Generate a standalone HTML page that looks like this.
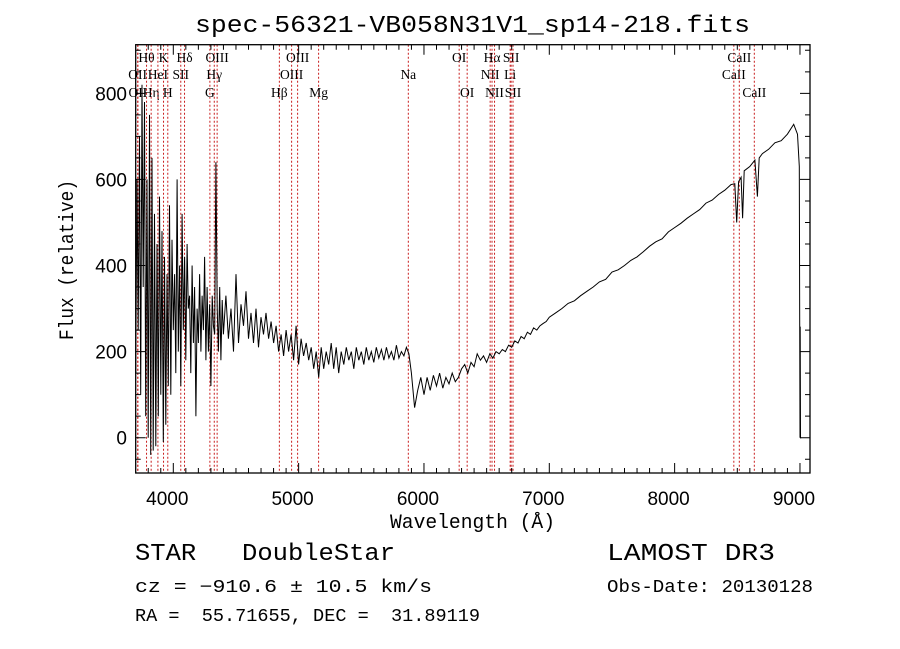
<!DOCTYPE html>
<html><head><meta charset="utf-8"><style>
html,body{margin:0;padding:0;background:#fff}
svg{display:block}
text{white-space:pre}
.tk{font-family:"Liberation Sans",sans-serif;font-size:19px;fill:#000}
.ll{font-family:"Liberation Serif",serif;font-size:13.5px;fill:#000}
.mn{font-family:"Liberation Mono",monospace;fill:#000}
</style></head><body>
<svg id="chart" width="900" height="649" viewBox="0 0 900 649" xmlns="http://www.w3.org/2000/svg" xml:space="preserve">
<rect x="0" y="0" width="900" height="649" fill="#fff"/>
<text class="mn" x="195" y="32" font-size="24" textLength="555" lengthAdjust="spacingAndGlyphs">spec-56321-VB058N31V1_sp14-218.fits</text>
<g id="lines"></g>
<g id="spec"></g>
<g id="axes"></g>
<text class="mn" x="390" y="528" font-size="20" textLength="165" lengthAdjust="spacingAndGlyphs">Wavelength (Å)</text>
<text class="mn" font-size="20" transform="translate(73,340) rotate(-90)" textLength="160" lengthAdjust="spacingAndGlyphs">Flux (relative)</text>
<text class="mn" x="135" y="560" font-size="24" textLength="260" lengthAdjust="spacingAndGlyphs">STAR   DoubleStar</text>
<text class="mn" x="135" y="592" font-size="18" textLength="297" lengthAdjust="spacingAndGlyphs">cz = −910.6 ± 10.5 km/s</text>
<text class="mn" x="135" y="621" font-size="18" textLength="345" lengthAdjust="spacingAndGlyphs">RA =  55.71655, DEC =  31.89119</text>
<text class="mn" x="607" y="560" font-size="24" textLength="168" lengthAdjust="spacingAndGlyphs">LAMOST DR3</text>
<text class="mn" x="607" y="592" font-size="18" textLength="206" lengthAdjust="spacingAndGlyphs">Obs-Date: 20130128</text>
</svg>
<script>
const wave = [3700,3710,3720,3730,3740,3750,3760,3770,3780,3790,3800,3810,3820,3830,3840,3850,3860,3870,3880,3890,3900,3910,3920,3930,3940,3950,3960,3970,3980,3990,4000,4010,4020,4030,4040,4050,4060,4070,4080,4090,4100,4110,4120,4130,4140,4150,4160,4170,4180,4190,4200,4210,4220,4230,4240,4250,4260,4270,4280,4290,4300,4310,4320,4330,4340,4350,4360,4370,4380,4390,
4400,4420,4440,4460,4480,4500,4520,4540,4560,4580,4600,4620,4640,4660,4680,4700,4720,4740,4760,4780,4800,4820,4840,4860,4880,4900,4920,4940,4960,4980,5000,5020,5040,5060,5080,5100,5120,5140,5160,5180,5200,5220,5240,5260,5280,5300,5320,5340,5360,5380,5400,5420,5440,5460,5480,5500,5520,5540,5560,5580,5600,5620,5640,5660,5680,5700,5720,5740,5760,5780,5800,5820,5840,5860,5880,
5900,5925,5950,5975,6000,6025,6050,6075,6100,6125,6150,6175,6200,6225,6250,6275,6300,6325,6350,6375,6400,6425,6450,6475,6500,6525,6550,6575,6600,6625,6650,6675,6700,6725,6750,6775,6800,6825,6850,6875,6900,6925,6950,6975,
7000,7050,7100,7150,7200,7250,7300,7350,7400,7450,7500,7550,7600,7650,7700,7750,7800,7850,7900,7950,8000,8050,8100,8150,8200,8250,8300,8350,8400,8450,8480,8495,8510,8530,8542,8555,8600,8640,8660,8675,8700,8750,8800,8850,8900,8950,8980,8995,9000,9002,9004,9010];
const flux = [150,600,250,700,100,820,350,780,50,600,0,750,-40,650,-30,520,-20,450,50,560,100,480,-10,420,30,380,120,540,100,460,250,380,150,600,200,400,120,520,250,420,180,450,300,330,150,400,220,350,50,300,220,380,200,330,250,420,180,350,200,310,120,330,260,240,640,300,200,350,180,320,
240,330,230,300,200,380,220,310,260,340,230,290,220,300,210,280,240,290,230,270,220,260,200,240,190,250,200,240,180,260,170,230,190,220,180,210,160,200,140,210,160,200,170,220,160,210,150,200,170,210,180,200,160,210,180,200,170,210,180,200,175,210,185,205,180,210,185,200,180,215,185,200,190,210,195,
150,70,110,140,100,140,110,145,120,150,115,140,125,150,130,140,160,170,150,175,165,195,180,190,175,195,185,200,195,205,200,215,210,225,220,235,230,245,240,255,250,260,265,270,
280,290,300,312,318,330,340,350,362,368,385,390,400,412,420,432,445,455,462,478,488,498,510,520,530,545,552,565,575,588,590,500,595,605,510,620,630,645,560,650,660,670,685,690,705,728,705,630,0,258,0,0];
const lineWave = [3727,3729,3798,3835,3889,3934,3968,4072,4102,4305,4340,4363,4861,4959,5007,5175,5893,6300,6364,6548,6563,6583,6708,6716,6731,8498,8542,8662];
const lineLabel = ["OII","OII","Hθ","Hη","HeI","K","H","SII","Hδ","G","Hγ","OIII","Hβ","OIII","OIII","Mg","Na","OI","OI","NII","Hα","NII","Li","SII","SII","CaII","CaII","CaII"];
const lineRow = [2,3,1,3,2,1,3,2,1,3,2,1,3,2,1,3,2,1,3,2,1,3,2,1,3,2,1,3];
const cz = -910.6;
const xTicks = [4000,5000,6000,7000,8000,9000];
const yTicks = [0,200,400,600,800];

const X0=135.7,X1=810,Y0=44.7,Y1=473,WMIN=3700,WMAX=9080,FMIN=-82,FMAX=913;
const sx=w=>X0+(w-WMIN)*(X1-X0)/(WMAX-WMIN);
const sy=f=>Y1-(f-FMIN)*(Y1-Y0)/(FMAX-FMIN);
const NS="http://www.w3.org/2000/svg";
function mk(tag,parent){const e=document.createElementNS(NS,tag);parent.appendChild(e);return e;}

const lg=document.getElementById('lines');
const rowY={1:62,2:79,3:97};
const zf=1+cz/299792.458;
lineWave.forEach((w,i)=>{
  const x=sx(w*zf);
  const l=mk('line',lg);
  
  
  l.setAttribute('x1',x);l.setAttribute('x2',x);l.setAttribute('y1',Y0);l.setAttribute('y2',Y1);
  l.setAttribute('stroke','#c81e1e');l.setAttribute('stroke-width','1');l.setAttribute('stroke-dasharray','2,2');
  const t=mk('text',lg);
  
  
  t.setAttribute('class','ll');t.setAttribute('x',x);t.setAttribute('y',rowY[lineRow[i]]);
  t.setAttribute('text-anchor','middle');t.textContent=lineLabel[i];
});

const sg=document.getElementById('spec');
const p=mk('path',sg);


let d='';
wave.forEach((w,i)=>{d+=(i?'L':'M')+sx(w).toFixed(1)+','+sy(flux[i]).toFixed(1);});
p.setAttribute('d',d);p.setAttribute('fill','none');p.setAttribute('stroke','#000');p.setAttribute('stroke-width','1');

const ag=document.getElementById('axes');
const fr=mk('rect',ag);


fr.setAttribute('x',X0);fr.setAttribute('y',Y0);fr.setAttribute('width',X1-X0);fr.setAttribute('height',Y1-Y0);
fr.setAttribute('fill','none');fr.setAttribute('stroke','#000');fr.setAttribute('stroke-width','1.3');
let td='';
for(let w=3800;w<=WMAX;w+=100){const x=sx(w);const L=(w%1000===0)?10:5;td+=`M${x},${Y1}v${-L}M${x},${Y0}v${L}`;}
for(let f=-50;f<=FMAX;f+=50){const y=sy(f);const L=(f%200===0)?10:5;td+=`M${X0},${y}h${L}M${X1},${y}h${-L}`;}
const tp=mk('path',ag);


tp.setAttribute('d',td);tp.setAttribute('stroke','#000');tp.setAttribute('stroke-width','1');
xTicks.forEach(w=>{const t=mk('text',ag);
  
  
  t.setAttribute('class','tk');t.setAttribute('x',sx(w)-6);t.setAttribute('y',505);t.setAttribute('text-anchor','middle');t.textContent=w;});
yTicks.forEach(f=>{const t=mk('text',ag);
  
  
  t.setAttribute('class','tk');t.setAttribute('x',127);t.setAttribute('y',sy(f)+7);t.setAttribute('text-anchor','end');t.textContent=f;});
</script>
</body></html>
